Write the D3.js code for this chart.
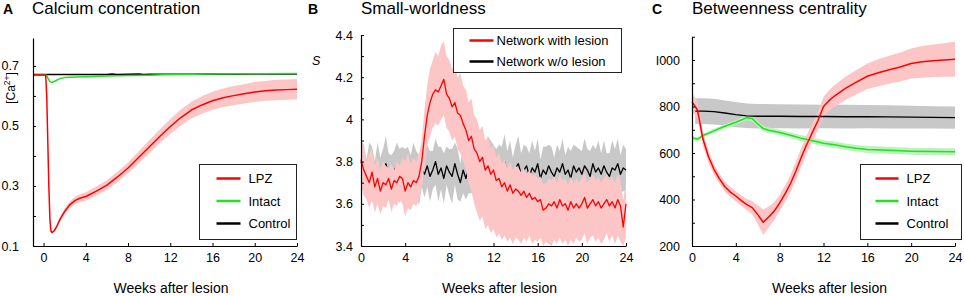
<!DOCTYPE html>
<html><head><meta charset="utf-8">
<script src="https://cdn.jsdelivr.net/npm/d3@7"></script>
<style>body{margin:0;background:#fff} svg{display:block;font-family:Arial,"Liberation Sans",sans-serif}</style>
</head><body><svg id="chart" width="964" height="296"></svg>
<script>
// ---------- Panel A: Calcium concentration ----------
const weeksA_LPZ = [-1,0,0.2,0.3,0.4,0.5,0.6,0.7,0.8,1,1.25,1.5,2,2.5,3,3.5,4,5,6,7,8,9,10,11,12,13,14,15,16,17,18,19,20,21,22,23,24];
const caLPZ      = [0.67,0.67,0.67,0.60,0.45,0.30,0.19,0.15,0.145,0.15,0.165,0.185,0.215,0.238,0.252,0.26,0.265,0.283,0.303,0.33,0.36,0.395,0.43,0.465,0.498,0.528,0.553,0.57,0.584,0.594,0.601,0.607,0.613,0.617,0.62,0.621,0.622];
const caLPZsd    = [0,0,0,0,0,0.002,0.003,0.004,0.004,0.005,0.006,0.008,0.01,0.011,0.012,0.013,0.014,0.015,0.016,0.017,0.018,0.02,0.022,0.023,0.025,0.027,0.028,0.029,0.03,0.031,0.032,0.032,0.033,0.033,0.034,0.034,0.034];
const weeksA_Int = [-1,0,0.25,0.4,0.6,0.8,1,1.5,2,3,4,6,8,10,12,14,16,20,24];
const caIntact   = [0.67,0.67,0.67,0.66,0.648,0.645,0.648,0.657,0.661,0.663,0.664,0.666,0.668,0.669,0.671,0.672,0.673,0.674,0.675];
const weeksA_Ctl = [-1,0,2,4,6,6.5,7,8,9,9.5,10,12,14,16,18,20,22,24];
const caControl  = [0.671,0.671,0.671,0.671,0.671,0.673,0.671,0.672,0.673,0.671,0.672,0.672,0.672,0.673,0.672,0.673,0.673,0.673];
const yTicksA = [0.1,0.2,0.3,0.4,0.5,0.6,0.7];
const yLabelsA = {"0.1":"0.1","0.3":"0.3","0.5":"0.5","0.7":"0.7"};
const xTicks = [0,4,8,12,16,20,24];
const legendA = ["LPZ","Intact","Control"];

// ---------- Panel B: Small-worldness ----------
const weeksB = d3.range(97).map(i => i / 4);
const swLesion = [
 3.81,3.76,3.73,3.70,3.75,3.68,3.72,3.66,
 3.70,3.69,3.72,3.67,3.71,3.70,3.73,3.72,
 3.66,3.70,3.68,3.71,3.70,3.73,3.80,3.92,
 4.02,4.08,4.12,4.14,4.13,4.16,4.19,4.12,
 4.10,4.06,4.08,4.03,4.02,3.98,3.95,3.90,
 3.92,3.86,3.84,3.80,3.82,3.76,3.78,3.74,
 3.76,3.71,3.72,3.68,3.70,3.66,3.69,3.65,
 3.67,3.66,3.64,3.66,3.63,3.65,3.62,3.63,
 3.61,3.62,3.57,3.58,3.60,3.59,3.61,3.58,
 3.62,3.59,3.60,3.57,3.61,3.58,3.60,3.58,
 3.60,3.63,3.58,3.60,3.62,3.59,3.61,3.58,
 3.60,3.62,3.59,3.61,3.58,3.62,3.59,3.49,
 3.60];
const swLesionHi = [
 3.90,3.86,3.80,3.84,3.86,3.78,3.82,3.76,
 3.80,3.78,3.77,3.79,3.76,3.80,3.78,3.82,
 3.80,3.84,3.79,3.82,3.80,3.84,3.90,4.05,
 4.16,4.24,4.28,4.32,4.30,4.35,4.37,4.30,
 4.28,4.24,4.26,4.20,4.22,4.16,4.14,4.08,
 4.10,4.02,4.00,3.95,3.97,3.90,3.92,3.86,
 3.88,3.82,3.84,3.79,3.81,3.77,3.80,3.76,
 3.78,3.77,3.75,3.77,3.74,3.76,3.73,3.74,
 3.72,3.73,3.69,3.70,3.72,3.71,3.73,3.70,
 3.74,3.71,3.72,3.69,3.73,3.70,3.72,3.70,
 3.72,3.75,3.70,3.72,3.74,3.71,3.73,3.70,
 3.72,3.74,3.71,3.73,3.70,3.74,3.71,3.62,
 3.70];
const swLesionLo = [
 3.70,3.64,3.62,3.58,3.62,3.56,3.60,3.55,
 3.59,3.58,3.62,3.56,3.60,3.59,3.62,3.60,
 3.54,3.58,3.57,3.60,3.59,3.62,3.68,3.78,
 3.88,3.92,3.96,3.98,3.97,4.00,4.02,3.96,
 3.94,3.90,3.92,3.86,3.84,3.80,3.76,3.70,
 3.66,3.60,3.56,3.52,3.54,3.48,3.50,3.46,
 3.48,3.44,3.46,3.43,3.45,3.42,3.44,3.41,
 3.44,3.43,3.41,3.44,3.42,3.45,3.41,3.43,
 3.42,3.44,3.40,3.42,3.41,3.40,3.43,3.41,
 3.44,3.41,3.43,3.40,3.43,3.41,3.44,3.42,
 3.43,3.46,3.41,3.44,3.45,3.42,3.44,3.41,
 3.43,3.46,3.42,3.45,3.41,3.45,3.42,3.40,
 3.44];
const swNoLesion = [
 3.80,3.76,3.72,3.78,3.74,3.70,3.77,3.73,
 3.75,3.79,3.74,3.71,3.76,3.78,3.73,3.77,
 3.74,3.78,3.72,3.76,3.75,3.71,3.77,3.74,
 3.78,3.73,3.76,3.80,3.74,3.77,3.72,3.78,
 3.75,3.73,3.79,3.74,3.70,3.76,3.72,3.77,
 3.74,3.78,3.75,3.80,3.76,3.79,3.81,3.77,
 3.78,3.74,3.79,3.76,3.80,3.75,3.78,3.73,
 3.77,3.79,3.74,3.76,3.78,3.73,3.77,3.75,
 3.79,3.72,3.76,3.74,3.78,3.75,3.73,3.77,
 3.75,3.79,3.74,3.76,3.72,3.78,3.75,3.77,
 3.74,3.78,3.76,3.73,3.79,3.75,3.77,3.74,
 3.78,3.75,3.73,3.77,3.76,3.79,3.74,3.77,
 3.76];
const swNoLesionSd = [
 0.10,0.12,0.09,0.11,0.13,0.10,0.12,0.09,
 0.11,0.13,0.10,0.12,0.09,0.11,0.13,0.10,
 0.12,0.09,0.11,0.13,0.10,0.12,0.09,0.11,
 0.10,0.12,0.09,0.11,0.13,0.10,0.12,0.09,
 0.11,0.13,0.10,0.12,0.09,0.11,0.10,0.12,
 0.09,0.11,0.13,0.10,0.12,0.09,0.11,0.13,
 0.10,0.12,0.09,0.11,0.13,0.10,0.12,0.09,
 0.11,0.13,0.10,0.12,0.09,0.11,0.13,0.10,
 0.12,0.09,0.11,0.13,0.10,0.12,0.09,0.11,
 0.10,0.12,0.09,0.11,0.13,0.10,0.12,0.09,
 0.11,0.13,0.10,0.12,0.09,0.11,0.13,0.10,
 0.12,0.09,0.11,0.13,0.10,0.12,0.09,0.11,
 0.10];
const yTicksB = [3.4,3.5,3.6,3.7,3.8,3.9,4.0,4.1,4.2,4.3,4.4];
const yLabelsB = {"3.4":"3.4","3.6":"3.6","3.8":"3.8","4":"4","4.2":"4.2","4.4":"4.4"};
const legendB = ["Network with lesion","Network w/o lesion"];

// ---------- Panel C: Betweenness centrality ----------
const weeksC_LPZ = [0,0.5,1,1.5,2,2.5,3,3.5,4,4.5,5,5.5,6,6.5,7,7.5,8,8.5,9,9.5,10,10.5,11,11.5,12,12.5,13,14,15,16,17,18,19,20,21,22,23,24];
const bcLPZ      = [820,785,660,585,530,490,455,432,415,395,378,365,335,302,325,350,385,425,470,525,585,640,690,740,800,825,845,878,905,930,945,958,970,985,992,997,1000,1003];
const bcLPZsd    = [40,35,30,26,22,22,22,22,22,22,24,28,40,55,45,38,35,36,38,40,40,40,40,40,42,44,46,50,52,55,58,60,62,65,68,70,72,75];
const weeksC_Int = [0,0.5,1,2,3,4,4.5,5,5.5,6,6.5,7,8,9,10,11,12,13,14,15,16,18,20,22,24];
const bcIntact   = [665,660,675,695,715,732,742,752,748,725,705,698,688,676,663,653,642,635,627,620,615,612,608,606,605];
const bcIntactSd = [8,8,8,9,9,10,10,11,11,11,12,12,12,12,13,13,13,14,14,14,15,15,15,15,15];
const weeksC_Ctl = [0.3,1,2,3,4,5,6,8,10,12,14,16,18,20,22,24];
const bcControl  = [780,780,778,772,765,760,758,758,757,757,756,756,755,754,753,752];
const bcControlSd= [55,55,55,54,54,53,53,52,52,51,51,50,50,49,48,48];
const yTicksC = [200,300,400,500,600,700,800,900,1000,1100];
const yLabelsC = {"200":"200","400":"400","600":"600","800":"800","1000":"I000"};
const legendC = ["LPZ","Intact","Control"];

// ---------- colours ----------
const RED = "#ff0000", PINK = "#fcc6c6", GREEN = "#22e022", LGREEN = "#bdf2bd", BLACK = "#000", GRAY = "#c8c8c8";

const svg = d3.select("#chart");
const zip = (ws, vs, sd) => ws.map((w, i) => ({w, v: vs[i], sd: sd ? sd[i] : 0}));

function makePanel(o) {
  const g = svg.append("g");
  const x = d3.scaleLinear().domain(o.xd).range(o.xr);
  const y = d3.scaleLinear().domain(o.yd).range(o.yr);
  const area = d3.area().x(d => x(d.w)).y0(d => y(d.lo)).y1(d => y(d.hi));
  const line = d3.line().x(d => x(d.w)).y(d => y(d.v));
  o.layers.forEach(L => {
    if (L.type === "band") {
      g.append("path").datum(L.data).attr("d", area).attr("fill", L.color).attr("stroke", "none");
    } else {
      g.append("path").datum(L.data).attr("d", line).attr("fill", "none")
        .attr("stroke", L.color).attr("stroke-width", L.width || 1.5).attr("stroke-linejoin", "round");
    }
  });
  const xa = g.append("g").attr("transform", `translate(0,${o.yr[0]})`)
    .call(d3.axisBottom(x).tickValues(xTicks).tickSize(-3).tickSizeOuter(0).tickPadding(7).tickFormat(d3.format("d")));
  const ya = g.append("g").attr("transform", `translate(${o.xr[0]},0)`)
    .call(d3.axisLeft(y).tickValues(o.yTicks).tickSize(-3).tickSizeOuter(0).tickPadding(o.yPad)
      .tickFormat(d => o.yLabels[String(+d.toFixed(2))] || ""));
  [xa, ya].forEach(a => {
    a.attr("font-family", "Arial, 'Liberation Sans', sans-serif").attr("font-size", 12.5);
    a.selectAll("path.domain").attr("stroke", "#000").attr("stroke-width", 1.2);
    a.selectAll(".tick line").attr("stroke", "#000");
    a.selectAll(".tick text").attr("fill", "#000");
  });
  // x label
  g.append("text").attr("x", (o.xr[0] + o.xr[1]) / 2 + 6).attr("y", 293).attr("text-anchor", "middle")
    .attr("font-size", 14).text("Weeks after lesion");
  // titles
  g.append("text").attr("x", o.letterX).attr("y", 14).attr("font-size", 14).attr("font-weight", "bold").text(o.letter);
  g.append("text").attr("x", o.titleX).attr("y", 14).attr("font-size", 17).text(o.title);
  // legend
  const lg = g.append("g");
  lg.append("rect").attr("x", o.legend.x).attr("y", o.legend.y).attr("width", o.legend.w).attr("height", o.legend.h)
    .attr("fill", "#fff").attr("stroke", "#222").attr("stroke-width", 1);
  o.legend.items.forEach((it, i) => {
    const yy = o.legend.y + o.legend.first + i * o.legend.step;
    lg.append("line").attr("x1", o.legend.x + o.legend.l1).attr("x2", o.legend.x + o.legend.l2)
      .attr("y1", yy).attr("y2", yy).attr("stroke", it.color).attr("stroke-width", 2.5);
    lg.append("text").attr("x", o.legend.x + o.legend.tx).attr("y", yy + 4.5).attr("font-size", 13).text(it.label);
  });
  return {g, x, y};
}

// Panel A
const A = makePanel({
  xd: [-1, 24], xr: [33, 297], yd: [0.1, 0.793], yr: [246, 38],
  yTicks: yTicksA, yLabels: yLabelsA, yPad: 14,
  letter: "A", letterX: 3, title: "Calcium concentration", titleX: 32,
  layers: [
    {type: "band", color: PINK, data: zip(weeksA_LPZ, caLPZ, caLPZsd).map(d => ({w: d.w, lo: d.v - d.sd, hi: d.v + d.sd}))},
    {type: "line", color: BLACK, data: zip(weeksA_Ctl, caControl)},
    {type: "line", color: GREEN, data: zip(weeksA_Int, caIntact)},
    {type: "line", color: RED, data: zip(weeksA_LPZ, caLPZ)}
  ],
  legend: {x: 199.5, y: 164.5, w: 97, h: 75, first: 14, step: 22.5, l1: 17, l2: 41, tx: 49,
    items: [{label: legendA[0], color: RED}, {label: legendA[1], color: GREEN}, {label: legendA[2], color: BLACK}]}
});
A.g.append("text").attr("transform", "translate(15,88) rotate(-90)").attr("text-anchor", "middle").attr("font-size", 12)
  .html('[Ca<tspan dy="-5" font-size="8.5">2+</tspan><tspan dy="5">]</tspan>');

// Panel B
const B = makePanel({
  xd: [0, 24], xr: [361, 626], yd: [3.4, 4.4], yr: [246, 35],
  yTicks: yTicksB, yLabels: yLabelsB, yPad: 8,
  letter: "B", letterX: 308, title: "Small-worldness", titleX: 361,
  layers: [
    {type: "band", color: GRAY, data: zip(weeksB, swNoLesion, swNoLesionSd).map(d => ({w: d.w, lo: d.v - d.sd, hi: d.v + d.sd}))},
    {type: "line", color: BLACK, width: 1.3, data: zip(weeksB, swNoLesion)},
    {type: "band", color: PINK, data: weeksB.map((w, i) => ({w, lo: swLesionLo[i], hi: swLesionHi[i]}))},
    {type: "line", color: RED, width: 1.3, data: zip(weeksB, swLesion)}
  ],
  legend: {x: 453.5, y: 28.5, w: 168, h: 44, first: 12, step: 21, l1: 16, l2: 40, tx: 43,
    items: [{label: legendB[0], color: RED}, {label: legendB[1], color: BLACK}]}
});
B.g.append("text").attr("x", 312).attr("y", 65).attr("font-size", 12.5).attr("font-style", "italic").text("S");

// Panel C
const C = makePanel({
  xd: [0, 24], xr: [692, 955], yd: [200, 1100], yr: [246, 36.75],
  yTicks: yTicksC, yLabels: yLabelsC, yPad: 12,
  letter: "C", letterX: 652, title: "Betweenness centrality", titleX: 692,
  layers: [
    {type: "band", color: GRAY, data: zip(weeksC_Ctl, bcControl, bcControlSd).map(d => ({w: d.w, lo: d.v - d.sd, hi: d.v + d.sd}))},
    {type: "band", color: LGREEN, data: zip(weeksC_Int, bcIntact, bcIntactSd).map(d => ({w: d.w, lo: d.v - d.sd, hi: d.v + d.sd}))},
    {type: "band", color: PINK, data: zip(weeksC_LPZ, bcLPZ, bcLPZsd).map(d => ({w: d.w, lo: d.v - d.sd, hi: d.v + d.sd}))},
    {type: "line", color: BLACK, width: 1.3, data: zip(weeksC_Ctl, bcControl)},
    {type: "line", color: GREEN, data: zip(weeksC_Int, bcIntact)},
    {type: "line", color: RED, data: zip(weeksC_LPZ, bcLPZ)}
  ],
  legend: {x: 860.5, y: 164.5, w: 101, h: 75, first: 14, step: 22.5, l1: 15, l2: 38, tx: 46,
    items: [{label: legendC[0], color: RED}, {label: legendC[1], color: GREEN}, {label: legendC[2], color: BLACK}]}
});
</script></body></html>
